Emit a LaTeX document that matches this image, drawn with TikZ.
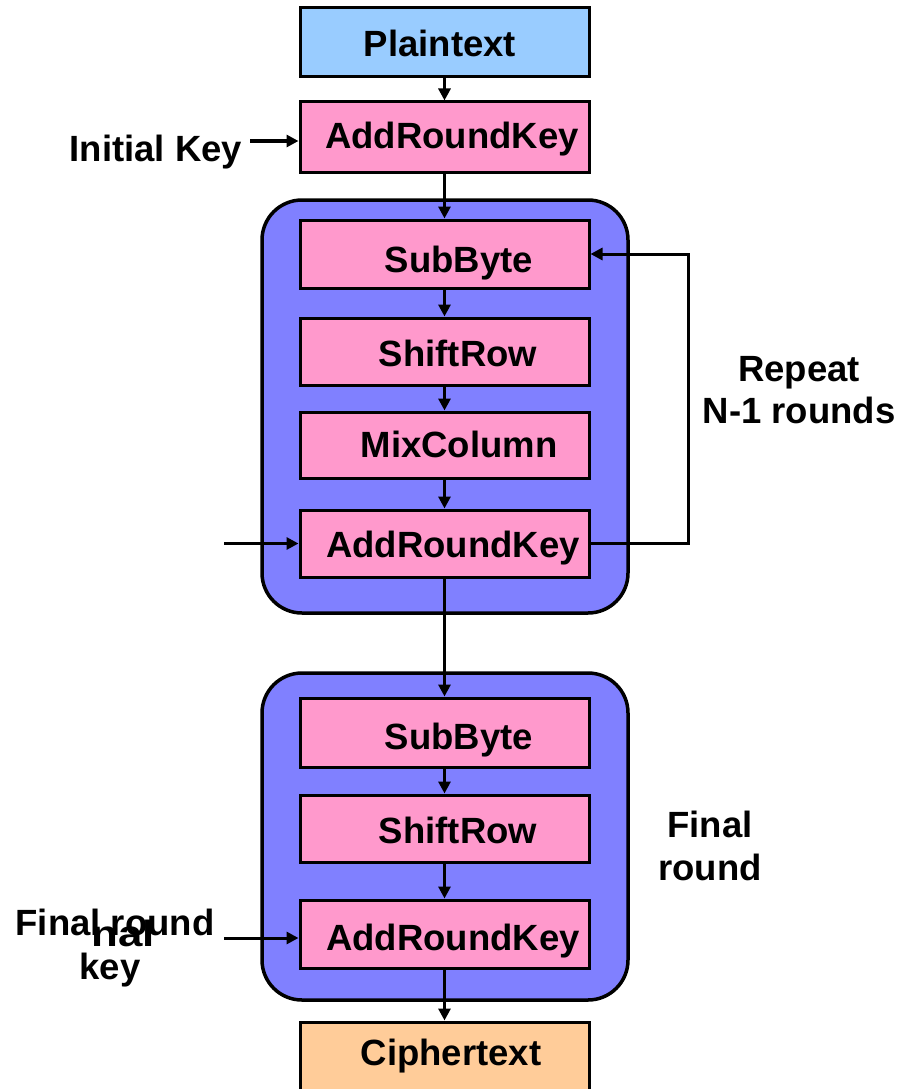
\documentclass[tikz,border=0pt]{standalone}
\usepackage{fontspec}
\setmainfont{Liberation Sans}
\usetikzlibrary{arrows.meta}
\definecolor{ptblue}{HTML}{99CCFF}
\definecolor{stpink}{HTML}{FF99CC}
\definecolor{rndblue}{HTML}{8080FF}
\definecolor{ctorange}{HTML}{FFCC99}
\tikzset{
  x=1pt, y=-1pt,
  stepbox/.style={draw=black, line width=3pt, fill=stpink, minimum width=289pt, inner sep=0pt},
  roundbox/.style={draw=black, line width=3.5pt, fill=rndblue, rounded corners=40pt, minimum width=366pt, inner sep=0pt},
  arr/.style={line width=3pt, -{Triangle[length=12pt,width=12pt]}},
  lbl/.style={font=\fontsize{36.5}{43}\selectfont\bfseries, inner sep=0pt, anchor=base},
}
\begin{document}
\begin{tikzpicture}
\useasboundingbox (0,0) rectangle (913,1089);
\clip (0,0) rectangle (913,1089);
% round frames
\node[roundbox, minimum height=413pt] (r1) at (445,406.5) {};
\node[roundbox, minimum height=327pt] (r2) at (445,836.5) {};
% boxes
\node[stepbox, fill=ptblue, minimum height=69pt] (pt) at (444.5,42.5) {};
\node[stepbox, minimum height=70pt] (ark0) at (444.5,137) {};
\node[stepbox, minimum height=68pt] (sb1) at (444.5,254) {};
\node[stepbox, minimum height=67pt] (sr1) at (444.5,351.5) {};
\node[stepbox, minimum height=66pt] (mc1) at (444.5,445) {};
\node[stepbox, minimum height=67pt] (ark1) at (444.5,543.5) {};
\node[stepbox, minimum height=69pt] (sb2) at (444.5,732.5) {};
\node[stepbox, minimum height=67pt] (sr2) at (444.5,828.5) {};
\node[stepbox, minimum height=68pt] (ark2) at (444.5,934) {};
\node[stepbox, fill=ctorange, minimum height=90pt] (ct) at (444.5,1067) {};
% box texts
\node[lbl] (tpt) at (440,57) {Plaintext};
\node[lbl] (tark0) at (452,148) {AddRoundKey};
\node[lbl] (tsb1) at (459,272) {SubByte};
\node[lbl] (tsr1) at (458,366) {ShiftRow};
\node[lbl] (tmc1) at (459,457) {MixColumn};
\node[lbl] (tark1) at (453,557) {AddRoundKey};
\node[lbl] (tsb2) at (459,749) {SubByte};
\node[lbl] (tsr2) at (458,843) {ShiftRow};
\node[lbl] (tark2) at (453,950) {AddRoundKey};
\node[lbl] (tct) at (451,1065) {Ciphertext};
% side texts
\node[lbl] (ik) at (156,161) {Initial Key};
\node[lbl] (rep1) at (799,381) {Repeat};
\node[lbl] (rep2) at (799,423) {N-1 rounds};
\node[lbl] (fr1) at (710,837) {Final};
\node[lbl] (fr2) at (710,880) {round};
\node[lbl] (frk1) at (115,935) {Final round};
\node[lbl, xscale=1.2] (frk0) at (123,946) {nal};
\node[lbl] (frk2) at (110,979) {key};
% connectors
\coordinate (ikend) at (250,141);
\coordinate (k1) at (224,543.5);
\coordinate (k2) at (224,938);
\coordinate (fb) at (688,0);
\draw[arr] (pt.south) -- (ark0.north);
\draw[arr] (ikend) -- (ikend -| ark0.west);
\draw[arr] (ark0.south) -- (sb1.north);
\draw[arr] (sb1.south) -- (sr1.north);
\draw[arr] (sr1.south) -- (mc1.north);
\draw[arr] (mc1.south) -- (ark1.north);
\draw[arr] (k1) -- (ark1.west);
\draw[arr] (ark1.east) -- (ark1.east -| fb) |- (sb1.east);
\draw[arr] (ark1.south) -- (sb2.north);
\draw[arr] (sb2.south) -- (sr2.north);
\draw[arr] (sr2.south) -- (ark2.north);
\draw[arr] (k2) -- (k2 -| ark2.west);
\draw[arr] (ark2.south) -- (ct.north);
\end{tikzpicture}
\end{document}
